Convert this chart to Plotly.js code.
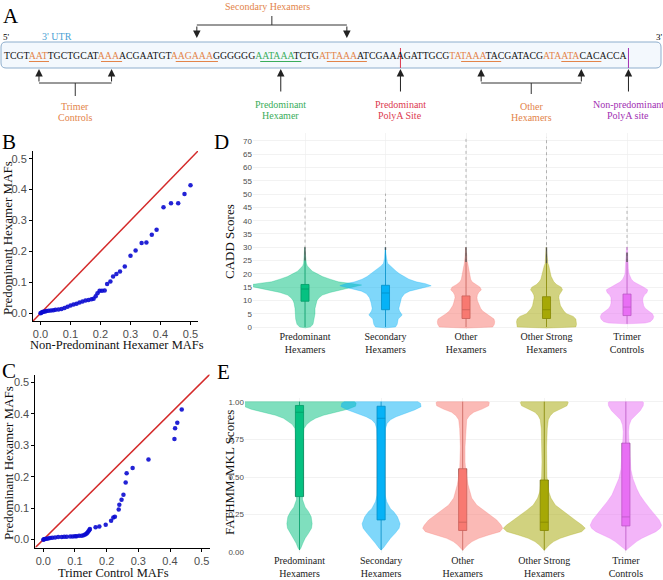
<!DOCTYPE html>
<html>
<head>
<meta charset="utf-8">
<script src="https://cdn.plot.ly/plotly-3.0.1.min.js"></script>
<style>
  html, body { margin: 0; padding: 0; background: #fff; }
  #chart { width: 663px; height: 580px; }
</style>
</head>
<body>
<div id="chart"></div>
<script>
// ---------------- data ----------------
// panel A: 3' UTR sequence, split into motifs
const seqParts = ['TCGT', 'AAT', 'TGCTGCAT', 'AAA', 'ACGAATGT', 'AAGAAA', 'GGGGGG', 'AATAAA', 'TCTG',
                  'ATTAAA', 'ATCGA', 'AAGATTGCG', 'TATAAA', 'TACGATACG', 'ATAATA', 'CACA', 'CCA'];
const seqRoles = ['', 'trimer', '', 'trimer', '', 'secondary', '', 'predominant', '',
                  'secondary', '', '', 'other', '', 'other', '', ''];

// panel B: QQ of non-predominant vs predominant hexamer MAFs
const qqB_x = [0, 0.003, 0.006, 0.01, 0.015, 0.02, 0.027, 0.035, 0.043, 0.05, 0.06, 0.07, 0.08, 0.09, 0.10,
               0.11, 0.12, 0.13, 0.14, 0.15, 0.16, 0.17, 0.177, 0.184, 0.19, 0.197, 0.205, 0.214, 0.222, 0.233,
               0.242, 0.253, 0.265, 0.281, 0.30, 0.317, 0.337, 0.353, 0.371, 0.387, 0.41, 0.435, 0.459, 0.48, 0.50];
const qqB_y = [0, 0.002, 0.004, 0.005, 0.006, 0.007, 0.008, 0.009, 0.010, 0.011, 0.012, 0.014, 0.017, 0.021, 0.025,
               0.028, 0.031, 0.035, 0.038, 0.041, 0.043, 0.045, 0.047, 0.055, 0.065, 0.073, 0.073, 0.074, 0.095, 0.103,
               0.119, 0.127, 0.135, 0.151, 0.186, 0.203, 0.227, 0.229, 0.254, 0.27, 0.343, 0.356, 0.356, 0.386, 0.414];

// panel C: QQ of trimer control vs predominant hexamer MAFs
const qqC_x = [0, 0.002, 0.005, 0.01, 0.015, 0.021, 0.028, 0.037, 0.047, 0.058, 0.066, 0.074, 0.085, 0.093, 0.1,
               0.105, 0.113, 0.121, 0.127, 0.132, 0.136, 0.139, 0.142, 0.145, 0.147, 0.165, 0.177, 0.197, 0.214,
               0.221, 0.226, 0.238, 0.24, 0.247, 0.253, 0.26, 0.263, 0.282, 0.332, 0.414, 0.416, 0.423, 0.437];
const qqC_y = [0, 0.001, 0.002, 0.003, 0.004, 0.005, 0.006, 0.007, 0.008, 0.008, 0.009, 0.009, 0.010, 0.010, 0.011,
               0.011, 0.012, 0.0125, 0.014, 0.016, 0.019, 0.022, 0.026, 0.030, 0.034, 0.039, 0.042, 0.047, 0.06,
               0.07, 0.073, 0.096, 0.111, 0.127, 0.143, 0.182, 0.211, 0.228, 0.255, 0.320, 0.354, 0.372, 0.414];

const groupLabels = ['Predominant<br>Hexamers', 'Secondary<br>Hexamers', 'Other<br>Hexamers',
                     'Other Strong<br>Hexamers', 'Trimer<br>Controls'];

// panel D: CADD score violins (score level, relative density)
const caddLevels = [
  [-0.3, 0, 1, 3, 5, 7, 9, 10, 11, 12, 13, 14, 15, 15.8, 16.4, 17, 18, 19, 20, 21, 22, 23, 24, 26, 28, 30],
  [-0.3, 0, 1, 3, 4.5, 6, 7, 9, 11, 12.5, 13.5, 14.5, 15.5, 16.3, 17, 18, 19, 20, 21, 22, 23, 24, 26, 30],
  [-0.4, 0, 1, 2, 3, 4, 5, 6, 7, 8, 9, 10, 11, 12, 13, 14, 15, 16, 17, 18, 19, 20, 22, 24, 25, 27, 30],
  [-0.4, 0, 1, 2, 3, 4, 5, 6, 7, 8, 9, 10, 11, 12, 13, 14, 15, 16, 17, 18, 19, 20, 21, 22, 23, 24, 26, 30],
  [1.2, 1.5, 2, 3, 4, 5, 6, 7, 8, 9, 10, 11, 12, 13, 14, 15, 16, 17, 18, 19, 20, 22, 25, 30]
];
const caddDensity = [
  [0, 16, 24, 28, 30, 30, 33, 36, 42, 52, 75, 110, 152, 170, 138, 100, 75, 52, 37, 22, 14, 7, 4, 3, 2, 1],
  [0, 30, 35, 38, 50, 42, 40, 43, 48, 57, 72, 105, 137, 120, 92, 70, 55, 42, 32, 23, 13, 6, 3, 1],
  [0, 80, 85, 86, 84, 72, 60, 50, 44, 40, 37, 34, 33, 34, 38, 46, 42, 28, 18, 14, 12, 10, 8, 5, 3, 2.5, 1],
  [0, 88, 90, 90, 88, 80, 60, 52, 46, 42, 40, 38, 37, 38, 42, 48, 44, 30, 22, 17, 14, 12, 11, 9, 7, 4, 3, 1],
  [0, 55, 70, 78, 80, 76, 65, 55, 50, 48, 47, 48, 52, 60, 62, 50, 35, 20, 13, 9, 6, 4, 3, 1.5]
];
const caddQ1 = [9.7, 6.5, 3.2, 3.2, 4.3];
const caddMedian = [14.3, 12.8, 6.5, 6.5, 7.5];
const caddQ3 = [16, 15.7, 11.7, 11.4, 12.4];
const caddLow = [0, 0, 0, 0, 1.2];
const caddFence = [25, 29, 24.5, 24, 24.5];
const caddDense = [30, 30, 30, 30, 28];
const caddMax = [49.5, 50.2, 71.5, 71.5, 45.3];

// panel E: FATHMM-MKL score violins
const fathLevels = [
  [0.015, 0.027, 0.06, 0.093, 0.126, 0.16, 0.19, 0.236, 0.27, 0.30, 0.35, 0.45, 0.6, 0.75, 0.82, 0.85, 0.87, 0.89, 0.91, 0.93, 0.95, 0.97, 0.99, 1.0],
  [0.015, 0.027, 0.06, 0.093, 0.126, 0.16, 0.19, 0.236, 0.27, 0.29, 0.336, 0.38, 0.5, 0.7, 0.82, 0.856, 0.88, 0.9, 0.92, 0.945, 0.967, 0.99, 1.0],
  [0.013, 0.027, 0.049, 0.071, 0.093, 0.115, 0.137, 0.16, 0.181, 0.215, 0.248, 0.28, 0.314, 0.36, 0.45, 0.55, 0.6, 0.7, 0.82, 0.88, 0.907, 0.93, 0.951, 0.973, 0.995, 1.0],
  [0.013, 0.027, 0.049, 0.071, 0.093, 0.115, 0.137, 0.16, 0.181, 0.215, 0.248, 0.28, 0.314, 0.36, 0.4, 0.5, 0.6, 0.7, 0.82, 0.88, 0.907, 0.93, 0.951, 0.973, 0.995, 1.0],
  [0.013, 0.027, 0.049, 0.071, 0.093, 0.115, 0.137, 0.16, 0.18, 0.215, 0.248, 0.29, 0.336, 0.38, 0.425, 0.49, 0.55, 0.65, 0.75, 0.8, 0.845, 0.88, 0.91, 0.94, 0.973, 0.995, 1.0]
];
const fathDensity = [
  [0, 4, 10, 17, 27, 36, 38, 35, 27, 17, 9, 9, 10, 11, 13, 22, 33, 48, 72, 105, 145, 168, 170, 165],
  [0, 6, 17, 28, 42, 54, 57, 49, 38, 28, 17, 12, 10, 11, 13, 18, 28, 45, 70, 100, 120, 118, 110],
  [0, 6, 15, 28, 48, 78, 112, 120, 115, 102, 82, 62, 42, 27, 16, 9, 7, 7, 9, 12, 20, 33, 58, 78, 80, 76],
  [0, 6, 15, 28, 48, 78, 112, 123, 113, 92, 72, 52, 33, 20, 14, 8, 7, 7, 9, 12, 18, 28, 48, 68, 72, 70],
  [0, 7, 18, 32, 48, 68, 90, 103, 107, 100, 87, 72, 56, 42, 32, 21, 15, 11, 9, 8, 10, 16, 28, 43, 52, 53, 50]
];
const fathQ1 = [0.37, 0.215, 0.145, 0.145, 0.175];
const fathMedian = [0.93, 0.89, 0.20, 0.20, 0.235];
const fathQ3 = [0.975, 0.97, 0.555, 0.48, 0.725];
const fathLow = [0.015, 0.015, 0.013, 0.013, 0.013];
const fathFence = [1, 1, 1, 1, 1];

// ---------------- look ----------------
const W = 663, H = 580;
const hues = ['#00BF7D', '#00B0F6', '#F8766D', '#A3A500', '#E76BF3'];
const ORANGE = '#e3844a', GREEN = '#3aad5b', RED = '#dc3a50', PURPLE = '#a12fb3', BLUE = '#4a9fd4';
const serif = '"Liberation Serif", "Times New Roman", Times, serif';
const sans = '"Liberation Sans", Arial, Helvetica, sans-serif';

const px = x => x / W;
const py = y => 1 - y / H;

function rgba(hex, a) {
  const n = parseInt(hex.slice(1), 16);
  return `rgba(${n >> 16},${(n >> 8) & 255},${n & 255},${a})`;
}
function darker(hex, f) {
  const n = parseInt(hex.slice(1), 16);
  return `rgb(${Math.round((n >> 16) * f)},${Math.round(((n >> 8) & 255) * f)},${Math.round((n & 255) * f)})`;
}

const annotations = [];
const shapes = [];
const traces = [];

function label(text, x, y, opts = {}) {
  annotations.push(Object.assign({
    text, x: px(x), y: py(y), xref: 'paper', yref: 'paper', showarrow: false,
    font: { family: serif, size: 10, color: '#000' }, xanchor: 'center', yanchor: 'middle'
  }, opts));
}
function hline(x0, y0, x1, y1, color = '#333', width = 1) {
  shapes.push({ type: 'line', xref: 'paper', yref: 'paper', x0: px(x0), y0: py(y0), x1: px(x1), y1: py(y1),
                line: { color, width } });
}
function arrow(x, headY, tailY) {
  annotations.push({ text: '', x: px(x), y: py(headY), xref: 'paper', yref: 'paper', showarrow: true,
                     ax: 0, ay: tailY - headY, arrowhead: 2, arrowsize: 1.5, arrowwidth: 1, arrowcolor: '#222',
                     standoff: 0, startstandoff: 0 });
}

// ---------------- panel A ----------------
const roleColor = { trimer: ORANGE, secondary: ORANGE, other: ORANGE, predominant: GREEN };
const glyphW = { A: 0.722, C: 0.667, G: 0.722, T: 0.611 };
const seqFont = 9.75, seqX0 = 3.5, seqY = 55;
const partStart = [];
let cursor = seqX0;
seqParts.forEach(p => {
  partStart.push(cursor);
  for (const ch of p) cursor += glyphW[ch] * seqFont;
});
partStart.push(cursor);
const partMid = i => (partStart[i] + partStart[i + 1]) / 2;

// rounded frame of the UTR
(function () {
  const x0 = 1, x1 = 661, y0 = 42, y1 = 68, r = 5;
  const P = (x, y) => `${px(x)},${py(y)}`;
  const path = `M${P(x0 + r, y0)} L${P(x1 - r, y0)} Q${P(x1, y0)} ${P(x1, y0 + r)} L${P(x1, y1 - r)} ` +
    `Q${P(x1, y1)} ${P(x1 - r, y1)} L${P(x0 + r, y1)} Q${P(x0, y1)} ${P(x0, y1 - r)} L${P(x0, y0 + r)} ` +
    `Q${P(x0, y0)} ${P(x0 + r, y0)} Z`;
  shapes.push({ type: 'path', xref: 'paper', yref: 'paper', path, fillcolor: '#f3f8fd',
                line: { color: '#8eaecd', width: 1 }, layer: 'below' });
})();

const seqText = seqParts.map((p, i) => seqRoles[i]
  ? `<span style="color:${roleColor[seqRoles[i]]}">${p}</span>` : p).join('');
annotations.push({ text: seqText, x: px(seqX0), y: py(seqY), xref: 'paper', yref: 'paper', showarrow: false,
                   xanchor: 'left', yanchor: 'middle', borderpad: 0, borderwidth: 0,
                   font: { family: serif, size: seqFont, color: '#111' } });
seqParts.forEach((p, i) => {
  if (seqRoles[i]) hline(partStart[i], 61.5, partStart[i + 1], 61.5, roleColor[seqRoles[i]], 1);
});

// polyA sites
const polyA = partStart[11], polyB = partStart[16];
hline(polyA, 48, polyA, 68, RED, 1);
hline(polyB, 48, polyB, 68, PURPLE, 1);

label('A', 11, 16, { font: { family: serif, size: 21, color: '#000' } });
label("5'", 6, 37, { font: { family: serif, size: 9, color: '#000' } });
label("3' UTR", 57, 37, { font: { family: serif, size: 10, color: BLUE } });
label("3'", 659, 37, { font: { family: serif, size: 9, color: '#000' } });

// secondary hexamers (above)
const s1 = partMid(5), s2 = partMid(9), sm = (s1 + s2) / 2;
hline(s1, 25, s2, 25); hline(sm, 16, sm, 25);
arrow(s1, 38, 25); arrow(s2, 38, 25);
label('Secondary Hexamers', sm - 4, 6, { font: { family: serif, size: 10, color: ORANGE } });

// trimer controls
const t1 = partMid(1), t2 = partMid(3), tm = (t1 + t2) / 2;
hline(t1, 83, t2, 83); hline(tm, 83, tm, 96);
arrow(t1, 69, 83); arrow(t2, 69, 83);
label('Trimer', tm, 107, { font: { family: serif, size: 10, color: ORANGE } });
label('Controls', tm, 118, { font: { family: serif, size: 10, color: ORANGE } });

// predominant hexamer
const ph = partMid(7);
arrow(ph, 69, 93);
label('Predominant', ph, 104, { font: { family: serif, size: 10, color: GREEN } });
label('Hexamer', ph, 115, { font: { family: serif, size: 10, color: GREEN } });

// predominant polyA site
arrow(polyA, 69, 93);
label('Predominant', polyA, 104, { font: { family: serif, size: 10, color: RED } });
label('PolyA Site', polyA, 115, { font: { family: serif, size: 10, color: RED } });

// other hexamers
const o1 = partMid(12), o2 = partMid(14), om = (o1 + o2) / 2;
hline(o1, 83, o2, 83); hline(om, 83, om, 94);
arrow(o1, 69, 83); arrow(o2, 69, 83);
label('Other', om, 106, { font: { family: serif, size: 10, color: ORANGE } });
label('Hexamers', om, 117, { font: { family: serif, size: 10, color: ORANGE } });

// non-predominant polyA site
arrow(polyB, 69, 93);
label('Non-predominant', polyB, 104, { font: { family: serif, size: 10, color: PURPLE } });
label('PolyA site', polyB, 115, { font: { family: serif, size: 10, color: PURPLE } });

// ---------------- panels B, C ----------------
const mafTicks = [0, 0.1, 0.2, 0.3, 0.4, 0.5];
function mafAxis(domain) {
  return {
    domain, range: [-0.025, 0.525], showline: true, linecolor: '#000', linewidth: 1, ticks: 'outside',
    ticklen: 3, tickcolor: '#000', tickvals: mafTicks, ticktext: mafTicks.map(v => v.toFixed(1)),
    showgrid: false, zeroline: false, tickfont: { family: sans, size: 11, color: '#4d4d4d' }, fixedrange: true
  };
}
[['x', 'y', qqB_x, qqB_y], ['x2', 'y2', qqC_x, qqC_y]].forEach(([xa, ya, xs, ys]) => {
  traces.push({ type: 'scatter', mode: 'lines', x: [-0.03, 0.53], y: [-0.03, 0.53], xaxis: xa, yaxis: ya,
                line: { color: '#d42a2a', width: 1.5 }, hoverinfo: 'skip' });
  traces.push({ type: 'scatter', mode: 'markers', x: xs, y: ys, xaxis: xa, yaxis: ya,
                marker: { color: '#0a0ad0', size: 4.5, opacity: 0.9 }, hoverinfo: 'x+y' });
});

label('B', 9, 142, { font: { family: serif, size: 21, color: '#000' } });
label('Predominant Hexamer MAFs', 7, 238, { textangle: -90, font: { family: serif, size: 13, color: '#111' } });
label('Non-Predominant Hexamer MAFs', 117, 345, { font: { family: serif, size: 12.5, color: '#111' } });

label('C', 9, 371, { font: { family: serif, size: 21, color: '#000' } });
label('Predominant Hexamer MAFs', 8, 463, { textangle: -90, font: { family: serif, size: 13, color: '#111' } });
label('Trimer Control MAFs', 113, 572.5, { font: { family: serif, size: 12.5, color: '#111' } });

// ---------------- panels D, E ----------------
function violin(levels, dens, center, scale, color, xa, ya) {
  const xs = [], ys = [];
  levels.forEach((v, k) => { xs.push(center + dens[k] * scale); ys.push(v); });
  for (let k = levels.length - 1; k >= 0; k--) { xs.push(center - dens[k] * scale); ys.push(levels[k]); }
  return { type: 'scatter', mode: 'lines', x: xs, y: ys, fill: 'toself', fillcolor: rgba(color, 0.5),
           line: { color: rgba(color, 0.55), width: 0.5 }, xaxis: xa, yaxis: ya, hoverinfo: 'skip' };
}
function box(i, q1, med, q3, lo, hi, color, xa, ya) {
  return { type: 'box', x: [i], q1: [q1], median: [med], q3: [q3], lowerfence: [lo], upperfence: [hi],
           width: 0.1, whiskerwidth: 0, boxpoints: false, fillcolor: rgba(color, 0.95),
           line: { color: darker(color, 0.62), width: 0.8 }, xaxis: xa, yaxis: ya, hoverinfo: 'skip' };
}

const scaleD = 1 / 241.5, scaleE = 1 / 244.8;
hues.forEach((c, i) => traces.push(violin(caddLevels[i], caddDensity[i], i, scaleD, c, 'x3', 'y3')));
hues.forEach((c, i) => {
  traces.push({ type: 'scatter', mode: 'lines', x: [i, i], y: [caddFence[i], caddMax[i]], xaxis: 'x3', yaxis: 'y3',
                line: { color: 'rgba(110,110,110,0.5)', width: 1, dash: 'dot' }, hoverinfo: 'skip' });
  traces.push({ type: 'scatter', mode: 'lines', x: [i, i], y: [caddFence[i], caddDense[i]], xaxis: 'x3', yaxis: 'y3',
                line: { color: 'rgba(60,60,60,0.75)', width: 1.4 }, hoverinfo: 'skip' });
  traces.push(box(i, caddQ1[i], caddMedian[i], caddQ3[i], caddLow[i], caddFence[i], c, 'x3', 'y3'));
});
hues.forEach((c, i) => traces.push(violin(fathLevels[i], fathDensity[i], i, scaleE, c, 'x4', 'y4')));
hues.forEach((c, i) => traces.push(box(i, fathQ1[i], fathMedian[i], fathQ3[i], fathLow[i], fathFence[i], c, 'x4', 'y4')));

const caddTicks = [];
for (let v = 0; v <= 70; v += 5) caddTicks.push(v);
const fathTicks = [0, 0.25, 0.5, 0.75, 1];

function catAxis(domain, range) {
  return {
    domain, range, tickvals: [0, 1, 2, 3, 4], ticktext: groupLabels, showgrid: true, gridcolor: '#efefef',
    gridwidth: 0.7, zeroline: false, showline: false, ticks: '', fixedrange: true,
    tickfont: { family: serif, size: 10, color: '#222' }
  };
}
function scoreAxis(domain, range, ticks, text) {
  return {
    domain, range, tickvals: ticks, ticktext: text, showgrid: true, gridcolor: '#ececec', gridwidth: 0.7,
    zeroline: false, showline: false, ticks: '', fixedrange: true,
    tickfont: { family: sans, size: 8, color: '#4d4d4d' }
  };
}

label('D', 221, 142, { font: { family: serif, size: 21, color: '#000' } });
label('CADD Scores', 229, 242, { textangle: -90, font: { family: serif, size: 13, color: '#111' } });
label('E', 223, 372, { font: { family: serif, size: 21, color: '#000' } });
label('FATHMM-MKL Scores', 229, 473, { textangle: -90, font: { family: serif, size: 13, color: '#111' } });

const layout = {
  width: W, height: H, margin: { l: 0, r: 0, t: 0, b: 0 }, paper_bgcolor: '#fff', plot_bgcolor: 'rgba(0,0,0,0)',
  showlegend: false, font: { family: serif },
  xaxis: Object.assign(mafAxis([px(33), px(198)]), { anchor: 'y' }),
  yaxis: Object.assign(mafAxis([py(321), py(151)]), { anchor: 'x' }),
  xaxis2: Object.assign(mafAxis([px(35.4), px(209.6)]), { anchor: 'y2' }),
  yaxis2: Object.assign(mafAxis([py(547.5), py(374.5)]), { anchor: 'x2' }),
  xaxis3: Object.assign(catAxis([px(253), 1], [-0.646, 4.447]), { anchor: 'y3' }),
  yaxis3: Object.assign(scoreAxis([py(329), py(133)], [-0.75, 73], caddTicks, caddTicks.map(String)), { anchor: 'x3' }),
  xaxis4: Object.assign(catAxis([px(245), 1], [-0.668, 4.455]), { anchor: 'y4' }),
  yaxis4: Object.assign(scoreAxis([py(553), py(398)], [-0.0046, 1.0246], fathTicks, fathTicks.map(v => v.toFixed(2))), { anchor: 'x4' }),
  annotations, shapes
};

Plotly.newPlot('chart', traces, layout, { displayModeBar: false, staticPlot: true });
</script>
</body>
</html>
